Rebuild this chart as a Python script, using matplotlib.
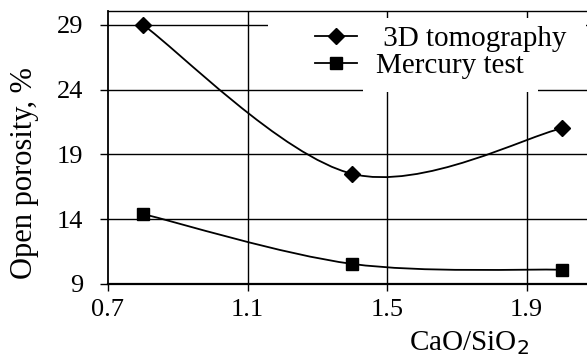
import matplotlib
matplotlib.use("Agg")
import matplotlib.pyplot as plt
from matplotlib.path import Path
from matplotlib.patches import PathPatch, Rectangle
from matplotlib.lines import Line2D
import numpy as np

# Data
ratio = [0.8, 1.4, 2.0]
tomography = [29.0, 17.5, 21.0]
mercury = [14.4, 10.55, 10.1]
xticks = [0.7, 1.1, 1.5, 1.9]
yticks = [9, 14, 19, 24, 29]
series_labels = [" 3D tomography", "Mercury test"]

plt.rcParams['font.family'] = ['Liberation Serif', 'DejaVu Serif']
FS = 19
LFS = 21

W, H = 587, 358
fig = plt.figure(figsize=(W / 100, H / 100), dpi=100)
L, R, T, B = 108, 587, 11, 284
ax = fig.add_axes([L / W, 1 - B / H, (R - L) / W, (B - T) / H])
ax.set_xlim(0.7, 2.073)
ax.set_ylim(9, 30.06)


def smooth_path(xs, ys):
    pts = np.column_stack([xs, ys]).astype(float)
    n = len(pts)
    verts = [pts[0]]
    codes = [Path.MOVETO]
    for i in range(n - 1):
        p0 = pts[i - 1] if i > 0 else pts[i]
        p1 = pts[i]
        p2 = pts[i + 1]
        p3 = pts[i + 2] if i + 2 < n else pts[i + 1]
        c1 = p1 + (p2 - p0) / 6.0
        c2 = p2 - (p3 - p1) / 6.0
        verts += [c1, c2, p2]
        codes += [Path.CURVE4] * 3
    return Path(verts, codes)


for ys, mk, ms in [(tomography, 'D', 8), (mercury, 's', 8.5)]:
    ax.add_patch(PathPatch(smooth_path(ratio, ys), facecolor='none',
                           edgecolor='black', lw=1.3, zorder=3))
    ax.plot(ratio, ys, linestyle='none', marker=mk, ms=ms, color='black', zorder=4)

# Grid
for xv in xticks[1:]:
    ax.axvline(xv, color='black', lw=1.0, zorder=1)
for yv in yticks[1:]:
    ax.axhline(yv, color='black', lw=1.0, zorder=1)

ax.set_xticks(xticks)
ax.set_xticklabels([f"{v:.1f}" for v in xticks])
ax.set_yticks(yticks)
ax.tick_params(axis='both', direction='out', colors='black', labelsize=FS,
               width=1.0)
ax.tick_params(axis='x', length=5, pad=6)
ax.tick_params(axis='y', length=6, pad=12)
ax.spines['right'].set_visible(False)
ax.spines['left'].set_linewidth(1.3)
ax.spines['bottom'].set_linewidth(1.6)
ax.spines['top'].set_linewidth(1.0)


# White legend background patches (pixel coordinates)
def px_rect(x0, y0, x1, y1):
    fig.patches.append(Rectangle((x0 / W, 1 - y1 / H), (x1 - x0) / W, (y1 - y0) / H,
                                 transform=fig.transFigure, facecolor='white',
                                 edgecolor='none', zorder=2))


px_rect(268, 18, 538, 86)
px_rect(363, 18, 538, 92)
px_rect(538, 18, 586, 32)

handles = [Line2D([], [], color='black', lw=1.3, marker='D', ms=8),
           Line2D([], [], color='black', lw=1.3, marker='s', ms=8.5)]
leg = fig.legend(handles, series_labels, loc='upper left',
                 bbox_to_anchor=(315 / W, 1 - 26 / H), frameon=False,
                 fontsize=LFS, handlelength=1.45, handletextpad=0.65,
                 labelspacing=0.0, borderpad=0.0, borderaxespad=0.0)
leg.set_zorder(5)

fig.text(469 / W, 1 - 343 / H, "CaO/SiO$_2$", ha='center', va='center', fontsize=LFS)
fig.text(25 / W, 1 - 173 / H, "Open porosity, %", ha='center', va='center',
         rotation=90, fontsize=22)

fig.savefig("out.png", dpi=100)
